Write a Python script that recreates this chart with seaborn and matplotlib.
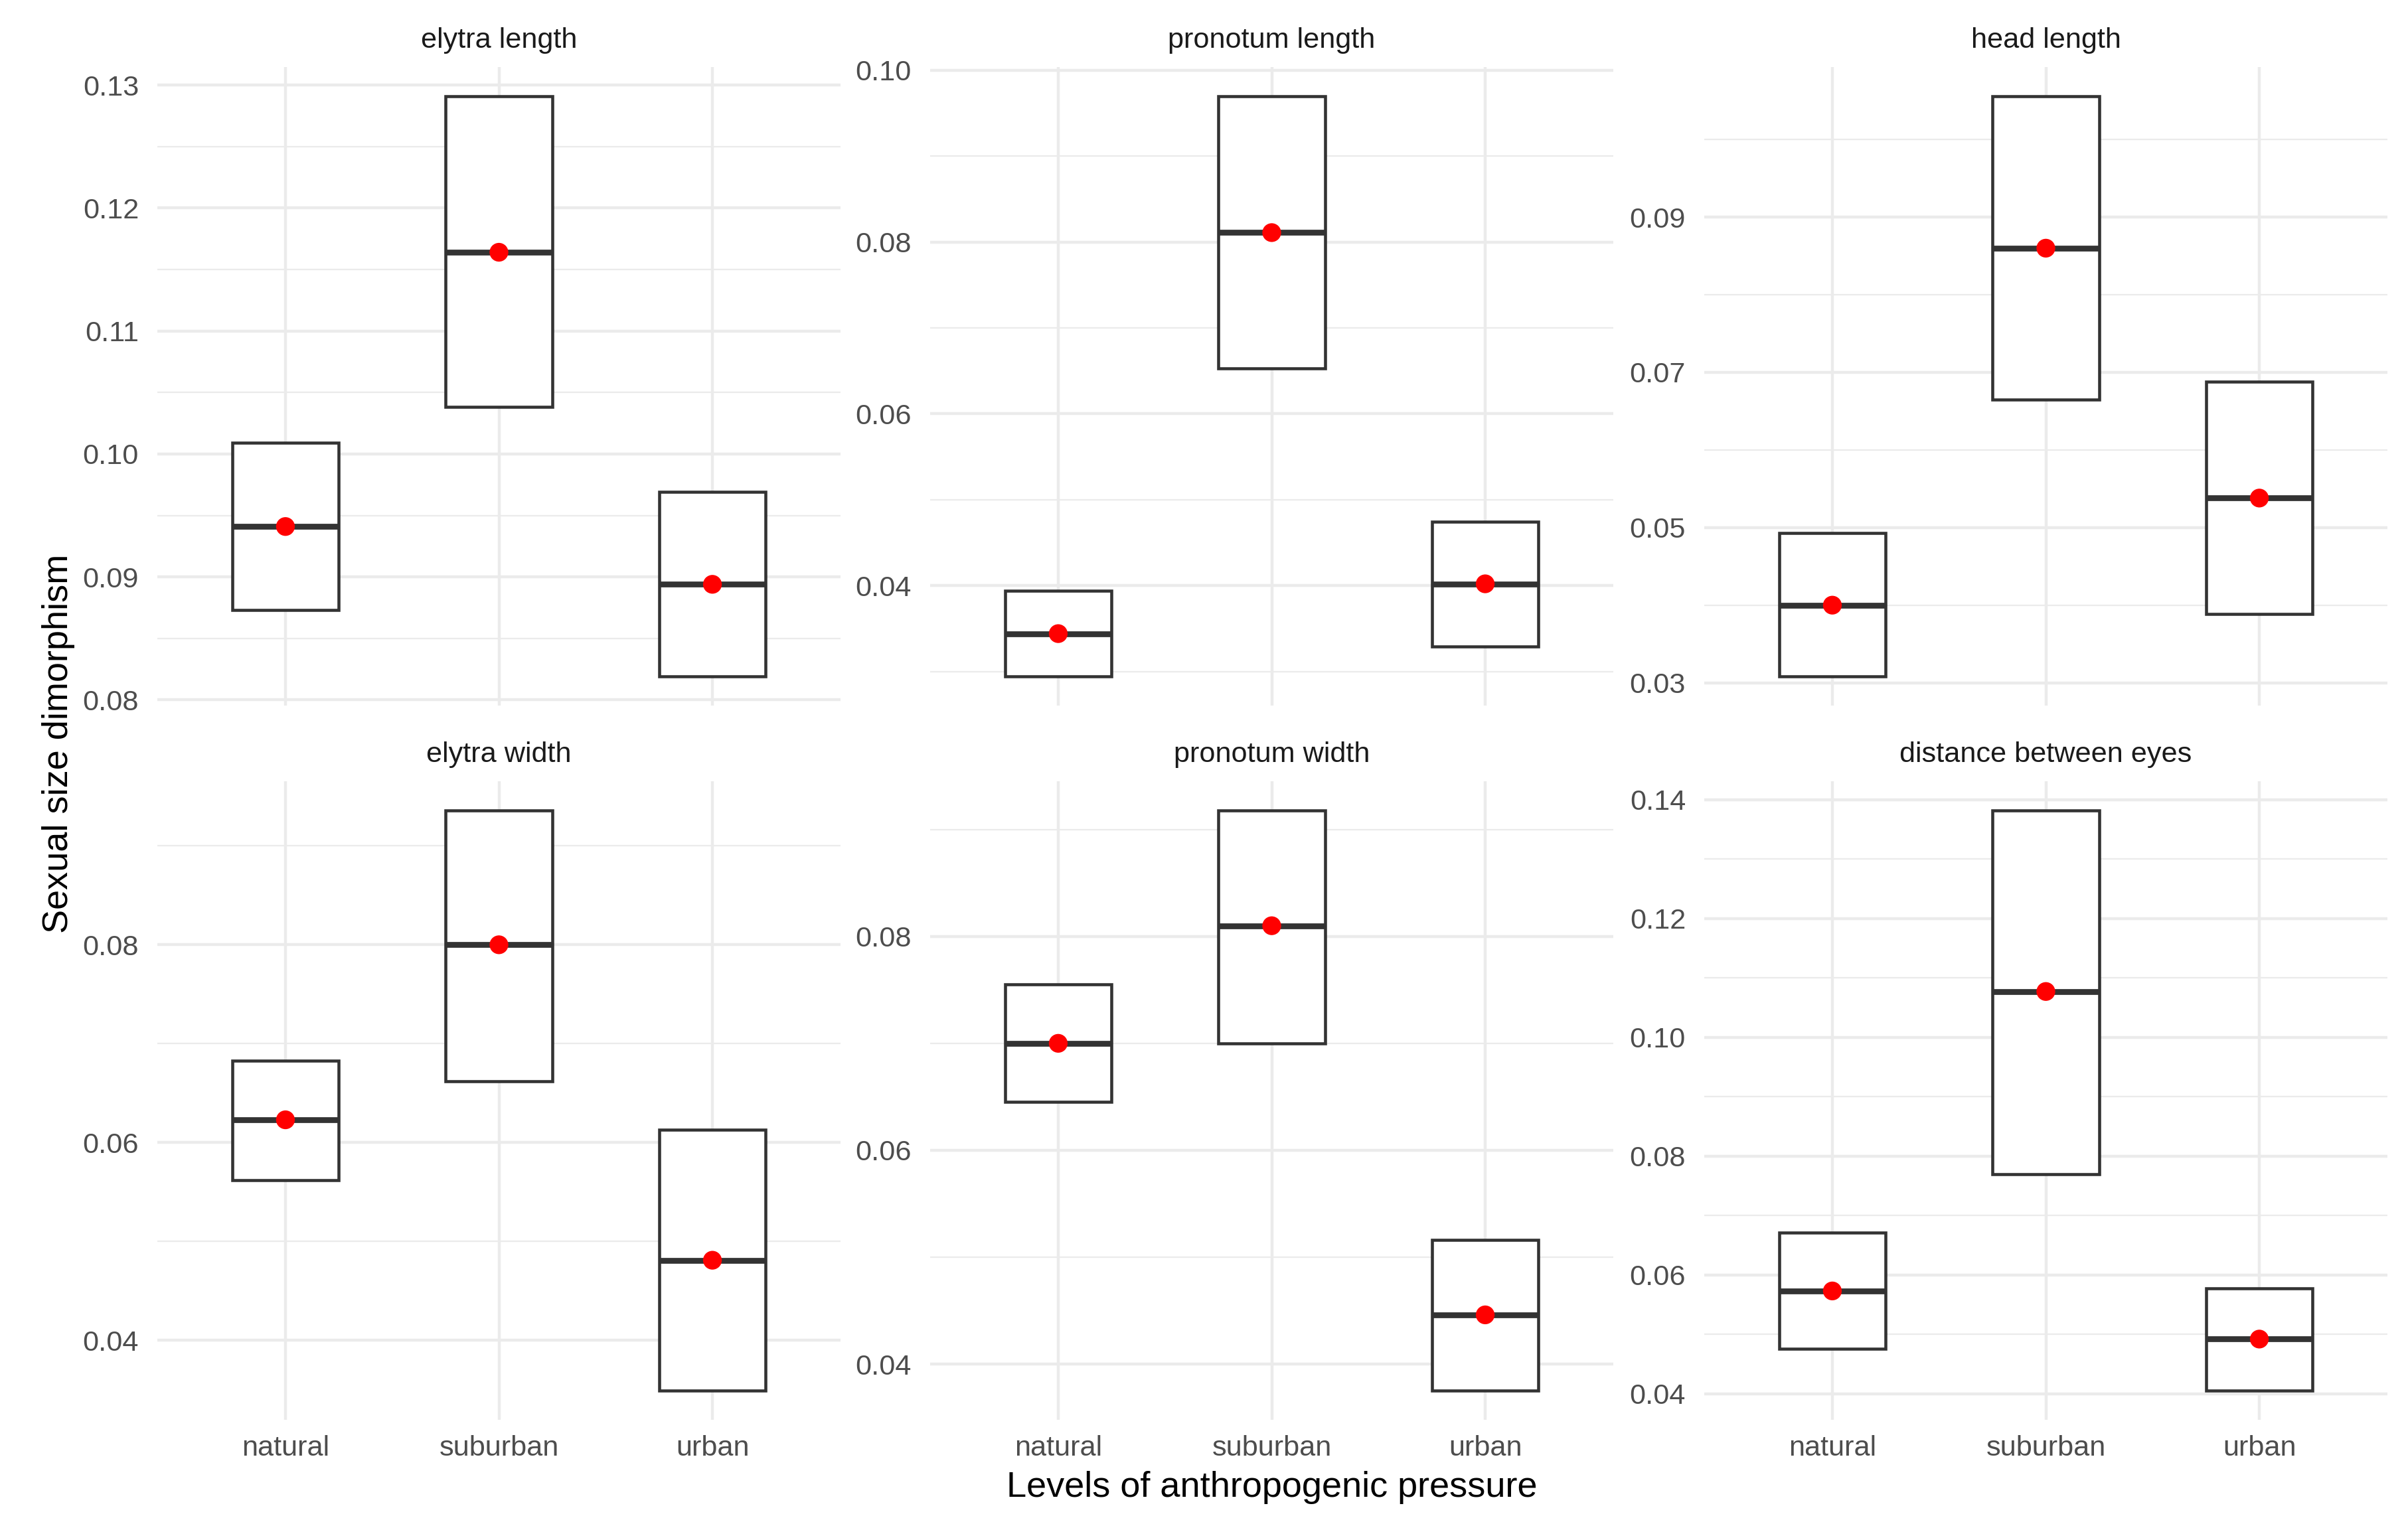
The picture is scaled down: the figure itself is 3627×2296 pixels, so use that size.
import numpy as np
import pandas as pd
import matplotlib
matplotlib.use("Agg")
import matplotlib.pyplot as plt
from matplotlib.ticker import FixedLocator, FormatStrFormatter
import seaborn as sns

# ---------------- data ----------------
categories = ["natural", "suburban", "urban"]
traits = ["elytra length", "pronotum length", "head length",
          "elytra width", "pronotum width", "distance between eyes"]

mid_elytra_length = [0.0941, 0.1164, 0.0894]
lo_elytra_length = [0.0873, 0.1038, 0.0819]
hi_elytra_length = [0.1009, 0.1291, 0.0969]

mid_pronotum_length = [0.0344, 0.0811, 0.0402]
lo_pronotum_length = [0.0294, 0.0653, 0.0329]
hi_pronotum_length = [0.0394, 0.0970, 0.0474]

mid_head_length = [0.0400, 0.0860, 0.0538]
lo_head_length = [0.0308, 0.0665, 0.0389]
hi_head_length = [0.0493, 0.1056, 0.0688]

mid_elytra_width = [0.0623, 0.0800, 0.0481]
lo_elytra_width = [0.0562, 0.0662, 0.0349]
hi_elytra_width = [0.0683, 0.0936, 0.0613]

mid_pronotum_width = [0.0700, 0.0810, 0.0446]
lo_pronotum_width = [0.0645, 0.0700, 0.0375]
hi_pronotum_width = [0.0755, 0.0918, 0.0516]

mid_eyes = [0.0573, 0.1077, 0.0492]
lo_eyes = [0.0476, 0.0770, 0.0405]
hi_eyes = [0.0671, 0.1382, 0.0577]

ticks_elytra_length = [0.08, 0.09, 0.10, 0.11, 0.12, 0.13]
ticks_pronotum_length = [0.04, 0.06, 0.08, 0.10]
ticks_head_length = [0.03, 0.05, 0.07, 0.09]
ticks_elytra_width = [0.04, 0.06, 0.08]
ticks_pronotum_width = [0.04, 0.06, 0.08]
ticks_eyes = [0.04, 0.06, 0.08, 0.10, 0.12, 0.14]

x_label = "Levels of anthropogenic pressure"
y_label = "Sexual size dimorphism"

panel_data = [
    (mid_elytra_length, lo_elytra_length, hi_elytra_length, ticks_elytra_length),
    (mid_pronotum_length, lo_pronotum_length, hi_pronotum_length, ticks_pronotum_length),
    (mid_head_length, lo_head_length, hi_head_length, ticks_head_length),
    (mid_elytra_width, lo_elytra_width, hi_elytra_width, ticks_elytra_width),
    (mid_pronotum_width, lo_pronotum_width, hi_pronotum_width, ticks_pronotum_width),
    (mid_eyes, lo_eyes, hi_eyes, ticks_eyes),
]

# ---------------- style ----------------
sns.set_theme(style="white")
plt.rcParams["font.family"] = ["Liberation Sans", "DejaVu Sans"]

W, H = 3627, 2296
DPI = 300
fig = plt.figure(figsize=(W / DPI, H / DPI), dpi=DPI)
fig.patch.set_facecolor("white")

col_left = [237 / W, 1401 / W, 2567 / W]
pan_w = 1029 / W
row_bottom = [1 - 1063 / H, 1 - 2139 / H]
pan_h = 962 / H

box_col = "#333333"
grid_col = "#EBEBEB"
tick_col = "#4D4D4D"
small_fs = 10.4
title_fs = 13.0

for i, (trait, (mid, lo, hi, ticks)) in enumerate(zip(traits, panel_data)):
    r, c = divmod(i, 3)
    ax = fig.add_axes([col_left[c], row_bottom[r], pan_w, pan_h])
    ax.set_facecolor("white")
    df = pd.DataFrame({"level": categories, "mid": mid, "lo": lo, "hi": hi})
    xs = np.arange(len(categories))

    # crossbar boxes
    ax.bar(df["level"], df["hi"] - df["lo"], bottom=df["lo"], width=0.5,
           facecolor="white", edgecolor=box_col, linewidth=1.1, zorder=3)
    # middle lines
    ax.hlines(df["mid"], xs - 0.25, xs + 0.25, colors=box_col,
              linewidth=2.1, zorder=4)
    # red points
    sns.scatterplot(data=df, x="level", y="mid", color="red", s=46,
                    edgecolor="none", linewidth=0, ax=ax, zorder=5)

    # limits (5% expansion like ggplot free scales)
    dmin, dmax = min(lo), max(hi)
    rng = dmax - dmin
    ax.set_ylim(dmin - 0.05 * rng, dmax + 0.05 * rng)
    ax.set_xlim(-0.6, 2.6)

    # grid
    step = ticks[1] - ticks[0]
    minors = [t - step / 2 for t in ticks] + [ticks[-1] + step / 2]
    ax.yaxis.set_major_locator(FixedLocator(ticks))
    ax.yaxis.set_minor_locator(FixedLocator(minors))
    ax.yaxis.set_major_formatter(FormatStrFormatter("%.2f"))
    ax.grid(which="major", axis="both", color=grid_col, linewidth=1.07, zorder=0)
    ax.grid(which="minor", axis="y", color=grid_col, linewidth=0.55, zorder=0)
    ax.set_axisbelow(True)

    for s in ax.spines.values():
        s.set_visible(False)
    ax.tick_params(axis="both", which="both", length=0)
    ax.tick_params(axis="y", pad=6.7, labelsize=small_fs, labelcolor=tick_col)
    ax.tick_params(axis="x", pad=5.5, labelsize=small_fs, labelcolor=tick_col)
    if r == 0:
        ax.set_xticklabels([])
    ax.set_xlabel("")
    ax.set_ylabel("")
    ax.set_title(trait, fontsize=small_fs, color="#1A1A1A", pad=7)

fig.text(88 / W, 1 - 1120 / H, y_label, rotation=90, ha="center", va="center",
         fontsize=title_fs, color="black")
fig.text(1916 / W, 1 - 2255 / H, x_label, ha="center", va="baseline",
         fontsize=title_fs, color="black")

fig.savefig("out.png", dpi=DPI, facecolor="white")
